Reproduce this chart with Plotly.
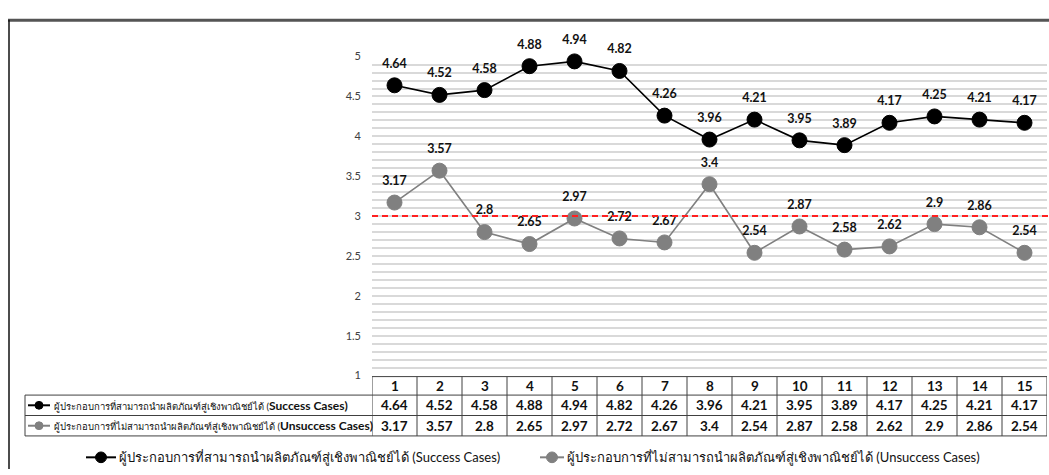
import plotly.graph_objects as go

# Cases 1-15 and their mean scores
cases = list(range(1, 16))
success = [4.64, 4.52, 4.58, 4.88, 4.94, 4.82, 4.26, 3.96, 4.21, 3.95, 3.89, 4.17, 4.25, 4.21, 4.17]
unsuccess = [3.17, 3.57, 2.8, 2.65, 2.97, 2.72, 2.67, 3.4, 2.54, 2.87, 2.58, 2.62, 2.9, 2.86, 2.54]
threshold = 3

name_success_th = "ผู้ประกอบการที่สามารถนำผลิตภัณฑ์สู่เชิงพาณิชย์ได้"
name_unsuccess_th = "ผู้ประกอบการที่ไม่สามารถนำผลิตภัณฑ์สู่เชิงพาณิชย์ได้"
name_success_en = "Success Cases"
name_unsuccess_en = "Unsuccess Cases"

y_ticks = [1, 1.5, 2, 2.5, 3, 3.5, 4, 4.5, 5]

W, H = 1049, 475
FONT = "Lato, 'Noto Sans', sans-serif"
BLACK = "#000000"
GREY = "#808080"
BORDER = "#404040"


def py(y):
    """pixel row -> paper fraction"""
    return 1 - y / H


def px(x):
    return x / W


fig = go.Figure()

series = [
    (success, BLACK, name_success_th, name_success_en),
    (unsuccess, GREY, name_unsuccess_th, name_unsuccess_en),
]
for vals, col, th, en in series:
    fig.add_trace(go.Scatter(
        x=cases, y=vals, mode="lines+markers",
        name=f"{th} ({en})",
        line=dict(color=col, width=1.6),
        marker=dict(size=15, color=col, line=dict(color=col, width=1)),
        cliponaxis=False, showlegend=False,
    ))
    # value labels, lifted a little above each marker
    fig.add_trace(go.Scatter(
        x=cases, y=vals, mode="markers+text",
        marker=dict(size=21.5, color="rgba(0,0,0,0)"),
        text=[str(v) for v in vals], textposition="top center",
        textfont=dict(family=FONT, size=12.5, color="#111111", weight="bold"),
        cliponaxis=False, showlegend=False, hoverinfo="skip",
    ))

# Threshold line at 3
fig.add_shape(type="line", xref="paper", yref="y",
              x0=px(372), x1=1, y0=threshold, y1=threshold,
              line=dict(color="#ff2020", width=2, dash="6px,4px"), layer="above")

# Outer frame
fig.add_shape(type="line", xref="paper", yref="paper", x0=px(8), x1=1,
              y0=py(13.5), y1=py(13.5), line=dict(color="#555555", width=3))
fig.add_shape(type="line", xref="paper", yref="paper", x0=px(9), x1=px(9),
              y0=py(13), y1=0, line=dict(color="#111111", width=1.5))

# Data table under the axis
t_top, r1, r2, t_bot = 380, 399, 420, 441
lab_left = 25
line_kw = dict(color=BORDER, width=1)
fig.add_shape(type="line", xref="x", yref="paper", x0=0.5, x1=15.5,
              y0=py(t_top), y1=py(t_top), line=line_kw)
for yy in (r1, r2, t_bot):
    fig.add_shape(type="line", xref="paper", yref="paper", x0=px(lab_left), x1=px(1047),
                  y0=py(yy), y1=py(yy), line=line_kw)
for k in range(16):
    fig.add_shape(type="line", xref="x", yref="paper", x0=0.5 + k, x1=0.5 + k,
                  y0=py(t_top), y1=py(t_bot), line=line_kw)
fig.add_shape(type="line", xref="paper", yref="paper", x0=px(lab_left), x1=px(lab_left),
              y0=py(r1), y1=py(t_bot), line=line_kw)


def key_glyph(x0, x1, yline, col, r):
    """small line-with-dot key"""
    xc = (x0 + x1) / 2
    fig.add_shape(type="line", xref="paper", yref="paper", x0=px(x0), x1=px(x1),
                  y0=py(yline), y1=py(yline), line=dict(color=col, width=2))
    fig.add_shape(type="circle", xref="paper", yref="paper", x0=px(xc - r), x1=px(xc + r),
                  y0=py(yline + r), y1=py(yline - r),
                  line=dict(color=col, width=1), fillcolor=col)


row_defs = [
    (t_top, r1, [str(c) for c in cases], None, None, None),
    (r1, r2, [str(v) for v in success], BLACK, name_success_th, name_success_en),
    (r2, t_bot, [str(v) for v in unsuccess], GREY, name_unsuccess_th, name_unsuccess_en),
]
for top, bot, vals, col, th, en in row_defs:
    yc = py((top + bot) / 2)
    for c, v in zip(cases, vals):
        fig.add_annotation(x=c, y=yc, xref="x", yref="paper", text=f"<b>{v}</b>",
                           showarrow=False, font=dict(family=FONT, size=13.5, color="#111111"),
                           xanchor="center", yanchor="middle")
    if th is not None:
        key_glyph(28, 50, (top + bot) / 2, col, 4)
        fig.add_annotation(x=px(52), y=yc, xref="paper", yref="paper",
                           text=f"<span style='font-size:9.5px'>{th} (</span><b>{en})</b>",
                           showarrow=False, font=dict(family=FONT, size=12, color="#111111"),
                           xanchor="left", yanchor="middle")

# Bottom key
legend_y = 463
for (x0, x1, tx), (vals, col, th, en) in zip([(86, 116, 117), (540, 564, 565)], series):
    key_glyph(x0, x1, legend_y, col, 5.5)
    fig.add_annotation(x=px(tx), y=py(legend_y), xref="paper", yref="paper",
                       text=f"{th} ({en})", showarrow=False,
                       font=dict(family=FONT, size=13, color="#111111"),
                       xanchor="left", yanchor="middle")

fig.update_layout(
    width=W, height=H,
    margin=dict(l=0, r=0, t=0, b=0),
    paper_bgcolor="white", plot_bgcolor="white",
    font=dict(family=FONT, color="#222222"),
    showlegend=False,
    xaxis=dict(domain=[px(372), px(1047)], range=[0.5, 15.5], showticklabels=False,
               showgrid=False, zeroline=False, fixedrange=True),
    yaxis=dict(domain=[py(379), py(51)], range=[1, 5], tickvals=y_ticks,
               ticktext=[f"{t:g}" for t in y_ticks],
               tickfont=dict(family=FONT, size=11, color="#404040"),
               showgrid=True, gridcolor="#d9d9d9", gridwidth=1.5,
               minor=dict(dtick=0.1, showgrid=True, gridcolor="#d9d9d9", gridwidth=1.5),
               zeroline=False, ticks="", ticklabelstandoff=10),
)

fig.write_html("out.html")
